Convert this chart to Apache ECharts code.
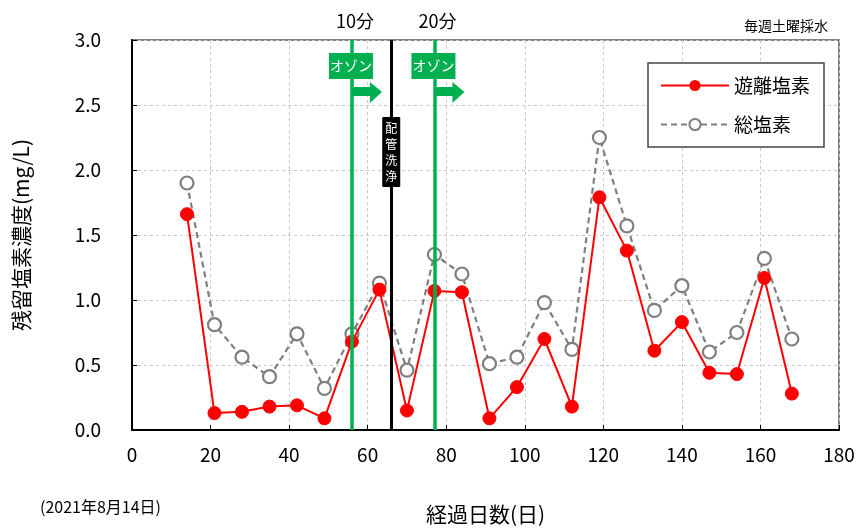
<!DOCTYPE html>
<html><head><meta charset="utf-8">
<script src="https://cdn.jsdelivr.net/npm/echarts@6/dist/echarts.min.js"></script>
<style>html,body{margin:0;padding:0;background:#fff}#c{width:866px;height:530px}</style>
</head><body><div id="c"></div>
<script>
const days = [14,21,28,35,42,49,56,63,70,77,84,91,98,105,112,119,126,133,140,147,154,161,168];
const freeCl = [1.66,0.13,0.14,0.18,0.19,0.09,0.68,1.08,0.15,1.07,1.06,0.09,0.33,0.70,0.18,1.79,1.38,0.61,0.83,0.44,0.43,1.17,0.28];
const totalCl = [1.90,0.81,0.56,0.41,0.74,0.32,0.74,1.13,0.46,1.35,1.20,0.51,0.56,0.98,0.62,2.25,1.57,0.92,1.11,0.60,0.75,1.32,0.70];
const ozoneDays = [56, 77];
const ozoneLabels = ['10分', '20分'];
const flushDay = 66;
const seriesNames = ['遊離塩素', '総塩素'];
const F = '"Noto Sans CJK JP", sans-serif';

const chart = echarts.init(document.getElementById('c'), null, {renderer:'canvas'});
const pairs = (ys) => days.map((d,i)=>[d, ys[i]]);
chart.setOption({
  animation:false,
  backgroundColor:'#fff',
  textStyle:{fontFamily:F},
  grid:{left:132, right:27, top:40, bottom:100, show:true, borderColor:'#555', borderWidth:1.5},
  xAxis:{type:'value', min:0, max:180, interval:20,
    axisLine:{lineStyle:{color:'#000', width:2}},
    axisTick:{inside:true, length:5, lineStyle:{color:'#000'}},
    axisLabel:{color:'#000', fontSize:19, margin:15, fontFamily:F},
    splitLine:{show:true, lineStyle:{color:'#c8c8c8', type:[3,3]}},
    name:'経過日数(日)', nameLocation:'middle', nameGap:74,
    nameTextStyle:{color:'#000', fontSize:21, fontFamily:F}},
  yAxis:{type:'value', min:0, max:3, interval:0.5,
    axisLine:{show:true, lineStyle:{color:'#000', width:2}},
    axisTick:{show:true, inside:true, length:5, lineStyle:{color:'#000'}},
    axisLabel:{color:'#000', fontSize:19, margin:31, fontFamily:F, formatter:v=>v.toFixed(1)},
    splitLine:{show:true, lineStyle:{color:'#c8c8c8', type:[3,3]}},
    name:'残留塩素濃度(mg/L)', nameLocation:'middle', nameGap:100, nameRotate:90,
    nameTextStyle:{color:'#000', fontSize:21, fontFamily:F}},
  legend:{orient:'vertical', left:648, top:63, width:170, padding:[13,14,13,12], itemGap:20,
    itemWidth:68, itemHeight:14, borderColor:'#444', borderWidth:1.5, backgroundColor:'#fff',
    textStyle:{fontSize:19, color:'#000', fontFamily:F},
    data:seriesNames},
  series:[
    {name:seriesNames[1], type:'line', data:pairs(totalCl), symbol:'circle', symbolSize:13, z:3,
     lineStyle:{color:'#7f7f7f', width:2.2, type:[6,4]},
     itemStyle:{color:'#fff', borderColor:'#7f7f7f', borderWidth:2.2}},
    {name:seriesNames[0], type:'line', data:pairs(freeCl), symbol:'circle', symbolSize:13, z:4,
     lineStyle:{color:'#ff0000', width:2},
     itemStyle:{color:'#ff0000', borderColor:'#ff0000'},
     markLine:{silent:true, symbol:'none', label:{show:false}, animation:false,
       data:[
         {xAxis:ozoneDays[0], lineStyle:{color:'#00b050', width:3.5, type:'solid'}},
         {xAxis:ozoneDays[1], lineStyle:{color:'#00b050', width:3.5, type:'solid'}},
         {xAxis:flushDay, lineStyle:{color:'#000', width:3, type:'solid'}}
       ]}}
  ]
});

const g = [];
ozoneDays.forEach((d,i)=>{
  const [x, yTop] = chart.convertToPixel({xAxisIndex:0,yAxisIndex:0},[d,3.0]);
  g.push({type:'text', x:x+3, y:yTop-19, z:100, style:{text:ozoneLabels[i], fontSize:18, fill:'#000', fontFamily:F, align:'center', verticalAlign:'middle'}});
  g.push({type:'rect', shape:{x:x-23, y:yTop+13, width:44, height:26}, style:{fill:'#00b050'}, z:100});
  g.push({type:'text', x:x-1, y:yTop+26, z:101, style:{text:'オゾン', fontSize:14, fill:'#fff', fontFamily:F, align:'center', verticalAlign:'middle'}});
  g.push({type:'polygon', z:100, shape:{points:[[x,yTop+47],[x+18,yTop+47],[x+18,yTop+42],[x+30,yTop+52],[x+18,yTop+63],[x+18,yTop+56],[x,yTop+56]]}, style:{fill:'#00b050'}});
});
{
  const [x, yTop] = chart.convertToPixel({xAxisIndex:0,yAxisIndex:0},[flushDay,3.0]);
  g.push({type:'rect', shape:{x:x-9, y:yTop+77, width:18, height:70, r:1}, style:{fill:'#000'}, z:100});
  g.push({type:'text', x:x, y:yTop+112, z:101, style:{text:'配\n管\n洗\n浄', fontSize:12, lineHeight:16, fill:'#fff', fontFamily:F, align:'center', verticalAlign:'middle'}});
}
g.push({type:'text', right:38, top:19, style:{text:'毎週土曜採水', fontSize:14, fill:'#000', fontFamily:F}});
g.push({type:'text', left:40, top:499, style:{text:'(2021年8月14日)', fontSize:16, fill:'#000', fontFamily:F}});
chart.setOption({graphic:g});
</script></body></html>
